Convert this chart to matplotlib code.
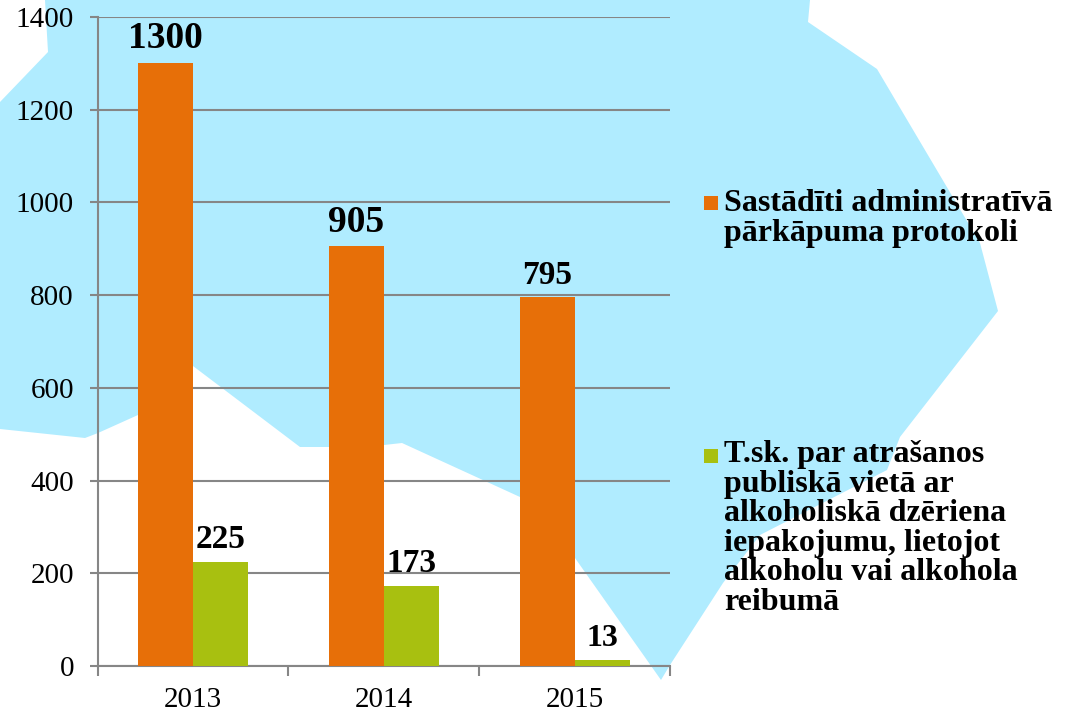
import matplotlib
matplotlib.use("Agg")
import matplotlib.pyplot as plt
import numpy as np
from matplotlib.patches import Polygon, Rectangle

years = ["2013", "2014", "2015"]
protocols = [1300, 905, 795]
alcohol = [225, 173, 13]
y_ticks = [0, 200, 400, 600, 800, 1000, 1200, 1400]
legend_protocols = "Sastādīti administratīvā\npārkāpuma protokoli"
legend_alcohol = ("T.sk. par atrašanos\npubliskā vietā ar\nalkoholiskā dzēriena\n"
                  "iepakojumu, lietojot\nalkoholu vai alkohola\nreibumā")

W, H = 1067, 713
ORANGE = "#E76F08"
GREEN = "#A8C010"
GREY = "#868686"
BLUE = "#B0ECFF"
SERIF = ["Liberation Serif", "DejaVu Serif"]

# background map shape, in pixels of the picture
map_outline = [
    (45, 0), (48, 52), (0, 102), (0, 429), (85, 438), (98, 433), (138, 415),
    (193, 366), (300, 447), (329, 447), (384, 445), (402, 443), (520, 497),
    (575, 558), (661, 680), (670, 665), (723, 583), (760, 535), (887, 470),
    (900, 437), (998, 311), (980, 243), (877, 69), (808, 22), (810, 0),
]

fig = plt.figure(figsize=(W / 100, H / 100), dpi=100)
bg = fig.add_axes([0, 0, 1, 1])
bg.set_xlim(0, W)
bg.set_ylim(H, 0)
bg.axis("off")
bg.add_patch(Polygon(map_outline, closed=True, facecolor=BLUE, edgecolor="none"))

ax = fig.add_axes([97.5 / W, 1 - 666 / H, (670.5 - 97.5) / W, (666 - 17) / H])
ax.patch.set_alpha(0)

x = np.arange(len(years))
bar_w = 0.288
ax.bar(x - bar_w / 2, protocols, bar_w, color=ORANGE, zorder=3)
ax.bar(x + bar_w / 2, alcohol, bar_w, color=GREEN, zorder=3)

ax.set_xlim(-0.5, 2.5)
ax.set_ylim(0, 1400)
ax.set_yticks(y_ticks)
ax.set_xticks(x)
ax.set_xticklabels(years)
ax.set_xticks(np.arange(-0.5, 3), minor=True)
ax.grid(axis="y", color=GREY, linewidth=1.5, zorder=1)
ax.tick_params(axis="x", which="major", length=0, pad=15, labelsize=21)
ax.tick_params(axis="x", which="minor", length=7, width=1.5, color=GREY)
ax.tick_params(axis="y", length=6, width=1.5, color=GREY, pad=11, labelsize=21)
for lab in ax.get_xticklabels() + ax.get_yticklabels():
    lab.set_family(SERIF)
for side in ["top", "right"]:
    ax.spines[side].set_visible(False)
for side in ["left", "bottom"]:
    ax.spines[side].set_color(GREY)
    ax.spines[side].set_linewidth(1.5)

top_sizes = [27, 27, 24]
low_sizes = [24, 24, 23]
for i in range(len(years)):
    ax.annotate(str(protocols[i]), (x[i] - bar_w / 2, protocols[i]), xytext=(0, 5),
                textcoords="offset points", ha="center", va="bottom",
                fontsize=top_sizes[i], fontweight="bold", family=SERIF, zorder=5)
    ax.annotate(str(alcohol[i]), (x[i] + bar_w / 2, alcohol[i]), xytext=(0, 5),
                textcoords="offset points", ha="center", va="bottom",
                fontsize=low_sizes[i], fontweight="bold", family=SERIF, zorder=5)

# legend is placed by hand, as in the reference
bg.add_patch(Rectangle((704, 196), 14, 14, facecolor=ORANGE, edgecolor="none"))
bg.add_patch(Rectangle((704, 449), 14, 14, facecolor=GREEN, edgecolor="none"))
bg.text(724, 189, legend_protocols, fontsize=23, fontweight="bold", family=SERIF,
        va="top", linespacing=1.025)
bg.text(724, 440, legend_alcohol, fontsize=23, fontweight="bold", family=SERIF,
        va="top", linespacing=1.025)

fig.savefig("out.png", dpi=100)
plt.close(fig)
